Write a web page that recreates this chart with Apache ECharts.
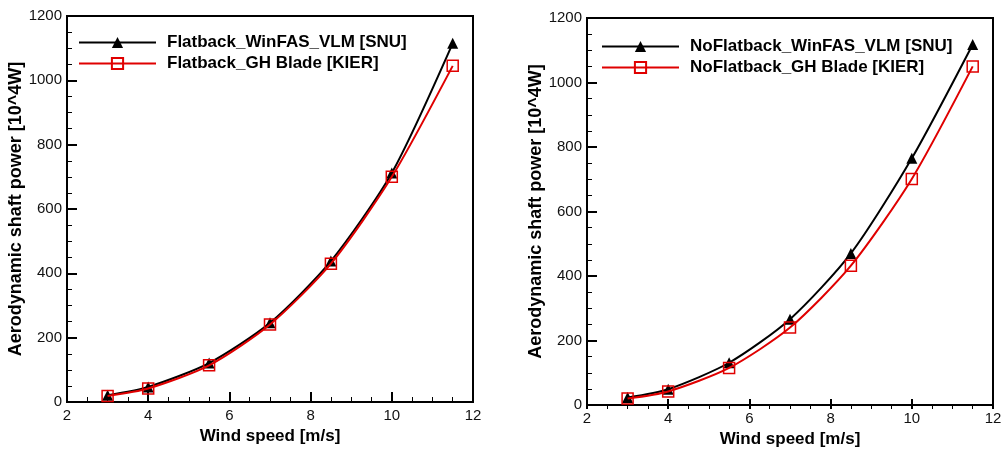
<!DOCTYPE html>
<html><head><meta charset="utf-8">
<script src="https://cdn.jsdelivr.net/npm/echarts@6/dist/echarts.min.js"></script>
<style>html,body{margin:0;padding:0;background:#fff}#c{width:1007px;height:453px}</style>
</head><body><div id="c"></div>
<script>
const windSpeed = [3, 4, 5.5, 7, 8.5, 10, 11.5];
const flatSNU = [21, 47, 121, 246, 438, 712, 1115];
const flatKIER = [19, 42, 114, 241, 430, 700, 1045];
const noFlatSNU = [23, 49, 131, 266, 470, 765, 1118];
const noFlatKIER = [20, 42, 115, 240, 432, 701, 1050];
const leftNames = ['Flatback_WinFAS_VLM [SNU]', 'Flatback_GH Blade [KIER]'];
const rightNames = ['NoFlatback_WinFAS_VLM [SNU]', 'NoFlatback_GH Blade [KIER]'];
const xTitle = 'Wind speed [m/s]';
const yTitle = 'Aerodynamic shaft power [10^4W]';

const pairs = a => windSpeed.map((x, i) => [x, a[i]]);
const font = 'Liberation Sans, Arial, sans-serif';

const grids = [
  {left: 67, top: 16, right: 534, bottom: 51},
  {left: 587, top: 18, right: 14, bottom: 44}
];
const gridW = g => 1007 - g.left - g.right;
const gridH = g => 453 - g.top - g.bottom;

function xAx(gi) {
  return {
    type: 'value', gridIndex: gi, min: 2, max: 12, interval: 2, position: 'bottom',
    name: xTitle, nameLocation: 'middle', nameGap: 26,
    nameTextStyle: {fontFamily: font, fontWeight: 'bold', fontSize: 17, color: '#000'},
    axisLine: {show: true, onZero: false, lineStyle: {color: '#000', width: 2}},
    axisTick: {show: false}, minorTick: {show: false},
    axisLabel: {fontFamily: font, fontSize: 15, color: '#111', margin: 6, formatter: v => String(v)},
    splitLine: {show: false}
  };
}
function yAx(gi) {
  return {
    type: 'value', gridIndex: gi, min: 0, max: 1200, interval: 200, position: 'left',
    name: yTitle, nameLocation: 'middle', nameGap: 41,
    nameTextStyle: {fontFamily: font, fontWeight: 'bold', fontSize: 18, color: '#000'},
    axisLine: {show: true, onZero: false, lineStyle: {color: '#000', width: 2}},
    axisTick: {show: false}, minorTick: {show: false},
    axisLabel: {fontFamily: font, fontSize: 15, color: '#111', margin: 5, formatter: v => String(v)},
    splitLine: {show: false}
  };
}
// tick-only axes placed on the bottom/left edges so their ticks point into the plot
function xTicks(gi) {
  return {
    type: 'value', gridIndex: gi, min: 2, max: 12, interval: 2, position: 'top',
    offset: -gridH(grids[gi]),
    axisLine: {show: false, onZero: false},
    axisTick: {show: true, inside: false, length: 10, lineStyle: {color: '#000', width: 2}},
    minorTick: {show: true, splitNumber: 4, length: 5, lineStyle: {color: '#000', width: 1}},
    axisLabel: {show: false}, splitLine: {show: false}
  };
}
function yTicks(gi) {
  return {
    type: 'value', gridIndex: gi, min: 0, max: 1200, interval: 200, position: 'right',
    offset: -gridW(grids[gi]),
    axisLine: {show: false, onZero: false},
    axisTick: {show: true, inside: false, length: 10, lineStyle: {color: '#000', width: 2}},
    minorTick: {show: true, splitNumber: 4, length: 5, lineStyle: {color: '#000', width: 1}},
    axisLabel: {show: false}, splitLine: {show: false}
  };
}
function snu(name, data, gi) {
  return {name, type: 'line', xAxisIndex: gi, yAxisIndex: gi, data: pairs(data), smooth: 0.25,
    symbol: 'triangle', symbolSize: 11, lineStyle: {color: '#000', width: 2},
    itemStyle: {color: '#000'}, z: 2};
}
function kier(name, data, gi) {
  return {name, type: 'line', xAxisIndex: gi, yAxisIndex: gi, data: pairs(data), smooth: 0.25,
    symbol: 'rect', symbolSize: 11, showAllSymbol: true, lineStyle: {color: '#e00000', width: 2},
    itemStyle: {color: 'rgba(255,255,255,0)', borderColor: '#e00000', borderWidth: 1.5}, z: 3};
}
function legend(names, left, top) {
  return {
    data: names, left, top, orient: 'vertical', itemGap: 4, itemWidth: 77, itemHeight: 14,
    textStyle: {fontFamily: font, fontWeight: 'bold', fontSize: 17, color: '#000', padding: [0, 0, 0, 6]}
  };
}
const chart = echarts.init(document.getElementById('c'), null, {renderer: 'canvas'});
chart.setOption({
  animation: false,
  backgroundColor: '#fff',
  grid: grids.map(g => Object.assign({show: true, borderColor: '#000', borderWidth: 2, backgroundColor: 'transparent'}, g)),
  xAxis: [xAx(0), xAx(1), xTicks(0), xTicks(1)],
  yAxis: [yAx(0), yAx(1), yTicks(0), yTicks(1)],
  legend: [legend(leftNames, 73, 29), legend(rightNames, 596, 33)],
  series: [
    snu(leftNames[0], flatSNU, 0), kier(leftNames[1], flatKIER, 0),
    snu(rightNames[0], noFlatSNU, 1), kier(rightNames[1], noFlatKIER, 1)
  ]
});
</script></body></html>
